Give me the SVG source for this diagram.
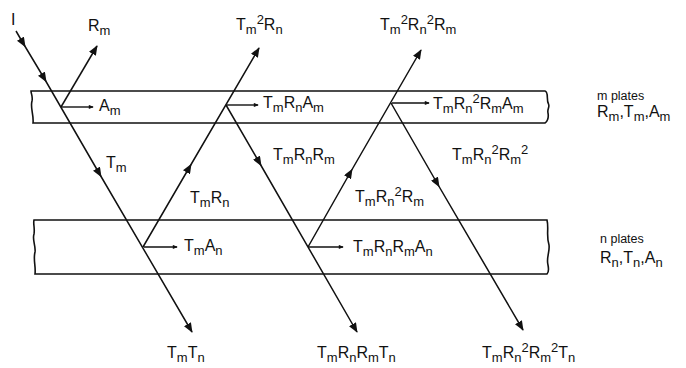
<svg xmlns="http://www.w3.org/2000/svg" width="686" height="368" viewBox="0 0 686 368">
<defs>
<style>
.ray{fill:none;stroke:#111;stroke-width:1.5}
.abs{fill:none;stroke:#111;stroke-width:1.4}
.plate{fill:none;stroke:#111;stroke-width:1.6}
text{font-family:"Liberation Sans",Arial,sans-serif;font-size:16px;fill:#111}
.s{font-size:13px}
.lg{font-size:12.5px}
</style>
<marker id="ah" viewBox="0 0 10 8" refX="9" refY="4" markerWidth="10" markerHeight="8" markerUnits="userSpaceOnUse" orient="auto">
<path d="M0,0 L10,4 L0,8 Z" fill="#111"/>
</marker>
<marker id="am" viewBox="0 0 10 8" refX="5" refY="4" markerWidth="10" markerHeight="8" markerUnits="userSpaceOnUse" orient="auto">
<path d="M0,0 L10,4 L0,8 Z" fill="#111"/>
</marker>
<marker id="dot" viewBox="0 0 6 6" refX="5" refY="3" markerWidth="6" markerHeight="5" markerUnits="userSpaceOnUse" orient="auto">
<path d="M0,0.5 L6,3 L0,5.5 Z" fill="#111"/>
</marker>
</defs>

<g id="m-plate">
<path class="plate" d="M31,91 L545,91 C549,92 546,100 548.5,104 C550,107 547,109 548,113 C549,118 547,122 545,123 L33,123 C34,115 30,108 32,101 C33,96 31,94 31,91 Z"/>
<text x="597" y="100" class="lg">m plates</text>
<text x="597" y="117">R<tspan class="s" dy="4">m</tspan><tspan dy="-4">,T</tspan><tspan class="s" dy="4">m</tspan><tspan dy="-4">,A</tspan><tspan class="s" dy="4">m</tspan></text>
</g>

<g id="n-plate">
<path class="plate" d="M34,220 L547,220 C549,228 546,236 549,245 C550,252 546,258 548,265 C549,270 548,273 547,274 L35,274 C36,266 33,260 35,252 C36,246 32,240 34,234 C35,228 33,224 34,220 Z"/>
<text x="600" y="243" class="lg">n plates</text>
<text x="600" y="263">R<tspan class="s" dy="4">n</tspan><tspan dy="-4">,T</tspan><tspan class="s" dy="4">n</tspan><tspan dy="-4">,A</tspan><tspan class="s" dy="4">n</tspan></text>
</g>

<g id="connectors">
<path class="ray" d="M16,31 L23,43 L44,78 L99,173 L192,332" marker-mid="url(#am)" marker-end="url(#ah)"/>
<path class="ray" d="M61,107 L97,46" marker-end="url(#ah)"/>
<path class="ray" d="M143,247 L189,168 L259,48" marker-mid="url(#am)" marker-end="url(#ah)"/>
<path class="ray" d="M226,105 L259,162 L357,332" marker-mid="url(#am)" marker-end="url(#ah)"/>
<path class="ray" d="M308,247 L350,173 L421,50" marker-mid="url(#am)" marker-end="url(#ah)"/>
<path class="ray" d="M391,103 L437,183 L523,330" marker-mid="url(#am)" marker-end="url(#ah)"/>
<path class="abs" d="M62,107 L93,107" marker-end="url(#dot)"/>
<path class="abs" d="M227,105 L258,105" marker-end="url(#dot)"/>
<path class="abs" d="M392,103 L429,103" marker-end="url(#dot)"/>
<path class="abs" d="M144,247 L177,247" marker-end="url(#dot)"/>
<path class="abs" d="M309,247 L343,247" marker-end="url(#dot)"/>
</g>

<g id="labels">
<text x="11" y="25">I</text>
<text x="88" y="31">R<tspan class="s" dy="4">m</tspan></text>
<text x="236" y="30">T<tspan class="s" dy="4">m</tspan><tspan class="s" dy="-10">2</tspan><tspan dy="6">R</tspan><tspan class="s" dy="4">n</tspan></text>
<text x="380" y="30">T<tspan class="s" dy="4">m</tspan><tspan class="s" dy="-10">2</tspan><tspan dy="6">R</tspan><tspan class="s" dy="4">n</tspan><tspan class="s" dy="-10">2</tspan><tspan dy="6">R</tspan><tspan class="s" dy="4">m</tspan></text>
<text x="99" y="111">A<tspan class="s" dy="4">m</tspan></text>
<text x="263" y="108">T<tspan class="s" dy="4">m</tspan><tspan dy="-4">R</tspan><tspan class="s" dy="4">n</tspan><tspan dy="-4">A</tspan><tspan class="s" dy="4">m</tspan></text>
<text x="433" y="109">T<tspan class="s" dy="4">m</tspan><tspan dy="-4">R</tspan><tspan class="s" dy="4">n</tspan><tspan class="s" dy="-10">2</tspan><tspan dy="6">R</tspan><tspan class="s" dy="4">m</tspan><tspan dy="-4">A</tspan><tspan class="s" dy="4">m</tspan></text>
<text x="106" y="168">T<tspan class="s" dy="4">m</tspan></text>
<text x="190" y="203">T<tspan class="s" dy="4">m</tspan><tspan dy="-4">R</tspan><tspan class="s" dy="4">n</tspan></text>
<text x="184" y="251">T<tspan class="s" dy="4">m</tspan><tspan dy="-4">A</tspan><tspan class="s" dy="4">n</tspan></text>
<text x="273" y="160">T<tspan class="s" dy="4">m</tspan><tspan dy="-4">R</tspan><tspan class="s" dy="4">n</tspan><tspan dy="-4">R</tspan><tspan class="s" dy="4">m</tspan></text>
<text x="355" y="202">T<tspan class="s" dy="4">m</tspan><tspan dy="-4">R</tspan><tspan class="s" dy="4">n</tspan><tspan class="s" dy="-10">2</tspan><tspan dy="6">R</tspan><tspan class="s" dy="4">m</tspan></text>
<text x="452" y="160">T<tspan class="s" dy="4">m</tspan><tspan dy="-4">R</tspan><tspan class="s" dy="4">n</tspan><tspan class="s" dy="-10">2</tspan><tspan dy="6">R</tspan><tspan class="s" dy="4">m</tspan><tspan class="s" dy="-10">2</tspan></text>
<text x="353" y="252">T<tspan class="s" dy="4">m</tspan><tspan dy="-4">R</tspan><tspan class="s" dy="4">n</tspan><tspan dy="-4">R</tspan><tspan class="s" dy="4">m</tspan><tspan dy="-4">A</tspan><tspan class="s" dy="4">n</tspan></text>
<text x="167" y="358">T<tspan class="s" dy="4">m</tspan><tspan dy="-4">T</tspan><tspan class="s" dy="4">n</tspan></text>
<text x="317" y="358">T<tspan class="s" dy="4">m</tspan><tspan dy="-4">R</tspan><tspan class="s" dy="4">n</tspan><tspan dy="-4">R</tspan><tspan class="s" dy="4">m</tspan><tspan dy="-4">T</tspan><tspan class="s" dy="4">n</tspan></text>
<text x="482" y="358">T<tspan class="s" dy="4">m</tspan><tspan dy="-4">R</tspan><tspan class="s" dy="4">n</tspan><tspan class="s" dy="-10">2</tspan><tspan dy="6">R</tspan><tspan class="s" dy="4">m</tspan><tspan class="s" dy="-10">2</tspan><tspan dy="6">T</tspan><tspan class="s" dy="4">n</tspan></text>
</g>
</svg>
